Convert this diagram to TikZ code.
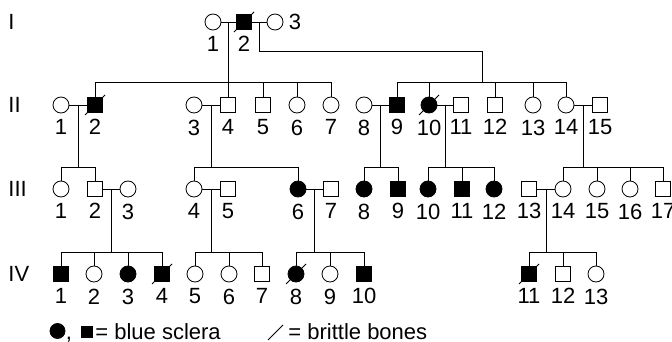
\documentclass[tikz,border=0pt]{standalone}
\usepackage{fontspec}
\setmainfont{Liberation Sans}
\usetikzlibrary{calc}

\tikzset{
  male/.style={draw, rectangle, minimum size=15pt, inner sep=0pt},
  female/.style={draw, circle, minimum size=16pt, inner sep=0pt},
  aff/.style={fill=black},
  gen/.style={anchor=west, inner sep=0pt},
  every label/.style={inner sep=0pt}
}

\begin{document}
\begin{tikzpicture}[x=1pt, y=-1pt, line width=0.8pt, label distance=6pt,
  font=\fontsize{22}{26}\selectfont]
\useasboundingbox (0,0) rectangle (672,342);

% Thế hệ
\node[gen] (gI) at (8,22) {I};
\node[gen] (gII) at (8,105) {II};
\node[gen] (gIII) at (8,189) {III};
\node[gen] (gIV) at (8,274) {IV};

% mức các đường anh chị em
\coordinate (sII) at (0,82);
\coordinate (sIII) at (0,167);
\coordinate (sIV) at (0,252);

% Thế hệ I
\node[female, label=below:1] (I1) at (213,22) {};
\node[male, aff, label=below:2] (I2) at (244,22) {};
\node[female, label={[label distance=5pt]right:3}] (I3) at (275,22) {};

% Thế hệ II
\node[female, label=below:1] (II1) at (61,105) {};
\node[male, aff, label=below:2] (II2) at (95,105) {};
\node[female, label=below:3] (II3) at (194,105) {};
\node[male, label=below:4] (II4) at (228,105) {};
\node[male, label=below:5] (II5) at (263,105) {};
\node[female, label=below:6] (II6) at (297,105) {};
\node[female, label=below:7] (II7) at (331,105) {};
\node[female, label=below:8] (II8) at (364,105) {};
\node[male, aff, label=below:9] (II9) at (397,105) {};
\node[female, aff, label=below:10] (II10) at (429,105) {};
\node[male, label=below:11] (II11) at (461,105) {};
\node[male, label=below:12] (II12) at (495,105) {};
\node[female, label=below:13] (II13) at (533,105) {};
\node[female, label=below:14] (II14) at (566,105) {};
\node[male, label=below:15] (II15) at (600,105) {};

% Thế hệ III
\node[female, label=below:1] (III1) at (61,189) {};
\node[male, label=below:2] (III2) at (95,189) {};
\node[female, label=below:3] (III3) at (128,189) {};
\node[female, label=below:4] (III4) at (194,189) {};
\node[male, label=below:5] (III5) at (228,189) {};
\node[female, aff, label=below:6] (III6) at (298,189) {};
\node[male, label=below:7] (III7) at (331,189) {};
\node[female, aff, label=below:8] (III8) at (364,189) {};
\node[male, aff, label=below:9] (III9) at (398,189) {};
\node[female, aff, label=below:10] (III10) at (428,189) {};
\node[male, aff, label=below:11] (III11) at (462,189) {};
\node[female, aff, label=below:12] (III12) at (494,189) {};
\node[male, label=below:13] (III13) at (529,189) {};
\node[female, label=below:14] (III14) at (563,189) {};
\node[female, label=below:15] (III15) at (597,189) {};
\node[female, label=below:16] (III16) at (630,189) {};
\node[male, label=below:17] (III17) at (663,189) {};

% Thế hệ IV
\node[male, aff, label=below:1] (IV1) at (61,274) {};
\node[female, label=below:2] (IV2) at (94,274) {};
\node[female, aff, label=below:3] (IV3) at (128,274) {};
\node[male, aff, label=below:4] (IV4) at (162,274) {};
\node[female, label=below:5] (IV5) at (195,274) {};
\node[female, label=below:6] (IV6) at (229,274) {};
\node[male, label=below:7] (IV7) at (262,274) {};
\node[female, aff, label=below:8] (IV8) at (296,274) {};
\node[female, label=below:9] (IV9) at (330,274) {};
\node[male, aff, label=below:10] (IV10) at (364,274) {};
\node[male, aff, label=below:11] (IV11) at (529,274) {};
\node[male, label=below:12] (IV12) at (563,274) {};
\node[female, label=below:13] (IV13) at (596,274) {};

% Các cặp vợ chồng
\foreach \a/\b in {I1/I2, I2/I3, II1/II2, II3/II4, II8/II9, II10/II11, II14/II15,
                   III2/III3, III4/III5, III6/III7, III13/III14}
  \draw (\a) -- (\b);

% I-1 x I-2
\coordinate (m1) at ($(I1)!.5!(I2)$);
\draw (m1) -- (m1 |- sII);
\draw (II2 |- sII) -- (II7 |- sII);
\foreach \c in {II2,II4,II5,II6,II7} \draw (\c) -- (\c |- sII);

% I-2 x I-3
\coordinate (m2) at ($(I2)!.5!(I3)$);
\coordinate (t2) at (482,51);
\draw (m2) |- (t2) -- (t2 |- sII);
\draw (II9 |- sII) -- (II14 |- sII);
\foreach \c in {II9,II10,II12,II13,II14} \draw (\c) -- (\c |- sII);

% con thế hệ III
\foreach \a/\b/\f/\l in {II1/II2/III1/III2, II3/II4/III4/III6, II8/II9/III8/III9,
                         II10/II11/III10/III12, II14/II15/III14/III17} {
  \coordinate (m) at ($(\a)!.5!(\b)$);
  \draw (m) -- (m |- sIII);
  \draw (\f |- sIII) -- (\l |- sIII);
}
\foreach \c in {III1,III2,III4,III6,III8,III9,III10,III11,III12,III14,III15,III16,III17}
  \draw (\c) -- (\c |- sIII);

% con thế hệ IV
\foreach \a/\b/\f/\l in {III2/III3/IV1/IV4, III4/III5/IV5/IV7, III6/III7/IV8/IV10,
                         III13/III14/IV11/IV13} {
  \coordinate (m) at ($(\a)!.5!(\b)$);
  \draw (m) -- (m |- sIV);
  \draw (\f |- sIV) -- (\l |- sIV);
}
\foreach \c in {IV1,IV2,IV3,IV4,IV5,IV6,IV7,IV8,IV9,IV10,IV11,IV12,IV13}
  \draw (\c) -- (\c |- sIV);

% xương giòn (gạch chéo)
\foreach \n in {I2,II2,II10,IV4,IV8,IV11}
  \draw ($(\n)+(-10,10)$) -- ($(\n)+(10,-10)$);

% Chú thích
\node[female, aff, minimum size=15pt] (keyF) at (57.5,331) {};
\node[anchor=base, inner sep=0pt] (comma) at (69,339) {,};
\node[male, aff, minimum size=11pt] (keyM) at (86.5,332) {};
\node[anchor=base west, inner sep=0pt] (keyA) at (95,339) {= blue sclera};
\coordinate (k1) at (268,340);
\coordinate (k2) at (283,325);
\draw (k1) -- (k2);
\node[anchor=base west, inner sep=0pt] (keyB) at (288,339) {= brittle bones};
\end{tikzpicture}
\end{document}
